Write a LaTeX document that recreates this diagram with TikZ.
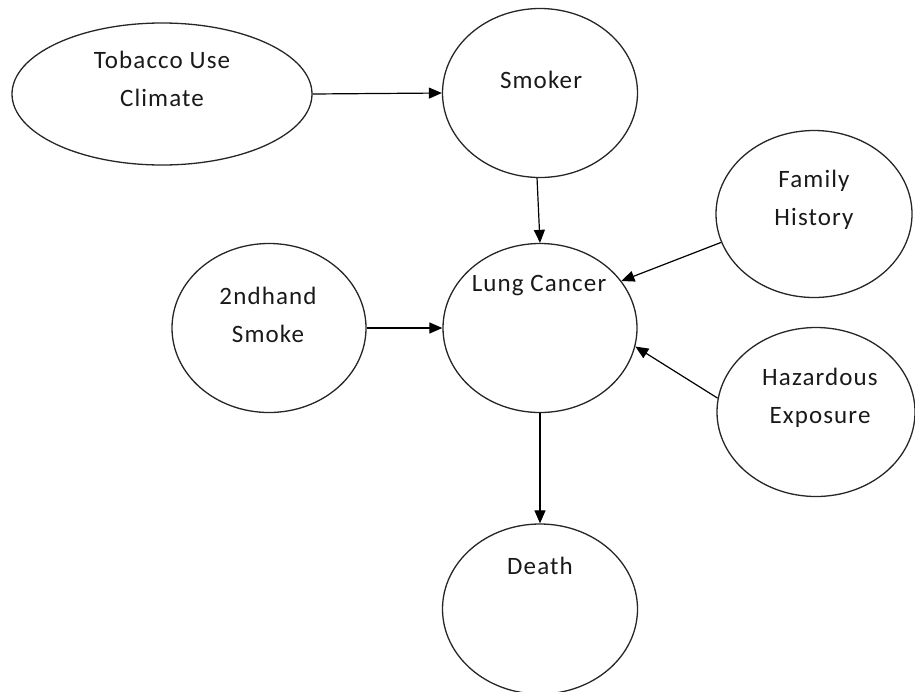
\documentclass[tikz,border=0pt]{standalone}
\usepackage{fontspec}
\setmainfont{Carlito}[LetterSpace=4.5]
\usetikzlibrary{shapes.geometric,arrows.meta}

\tikzset{
  bubble/.style={draw=black!85, line width=1.3pt, shape=ellipse, inner sep=0pt},
  caption/.style={font=\fontsize{25}{38}\selectfont, align=center, text=black!90, inner sep=0pt},
  link/.style={draw=black, line width=1.2pt, -{Triangle[length=13pt,width=11pt]}}
}

\begin{document}
\begin{tikzpicture}[x=1pt, y=-1pt]
  \useasboundingbox (0,0) rectangle (915,691);
  \clip (0,0) rectangle (915,691);

  % outlines
  \node[bubble, minimum width=300pt, minimum height=142pt] (tob) at (162,94) {};
  \node[bubble, minimum width=195pt, minimum height=169pt] (smoker) at (540,93) {};
  \node[bubble, minimum width=196pt, minimum height=167pt] (family) at (814,214) {};
  \node[bubble, minimum width=194pt, minimum height=169pt] (second) at (269,328) {};
  \node[bubble, minimum width=194pt, minimum height=169pt] (lung) at (540,328) {};
  \node[bubble, minimum width=198pt, minimum height=169pt] (hazard) at (816,412) {};
  \node[bubble, minimum width=195pt, minimum height=170pt] (death) at (540,609) {};

  % labels, set near the top of each outline
  \node[caption] (tob-t) at (162,79) {Tobacco Use\\Climate};
  \node[caption] (smoker-t) at (541,80) {Smoker};
  \node[caption] (family-t) at (814,200) {Family\\History};
  \node[caption] (second-t) at (268,315) {2ndhand\\Smoke};
  \node[caption] (lung-t) at (539,286) {Lung Cancer};
  \node[caption] (hazard-t) at (820,398) {Hazardous\\Exposure};
  \node[caption] (death-t) at (540,566) {Death};

  % influences
  \draw[link] (tob.east) -- (smoker.west);
  \draw[link] (smoker.268) -- (lung.north);
  \draw[link] (family.197) -- (lung.30);
  \draw[link] (second.east) -- (lung.west);
  \draw[link] (hazard.172) -- (lung.-11);
  \draw[link] (lung.south) -- (death.north);
\end{tikzpicture}
\end{document}
